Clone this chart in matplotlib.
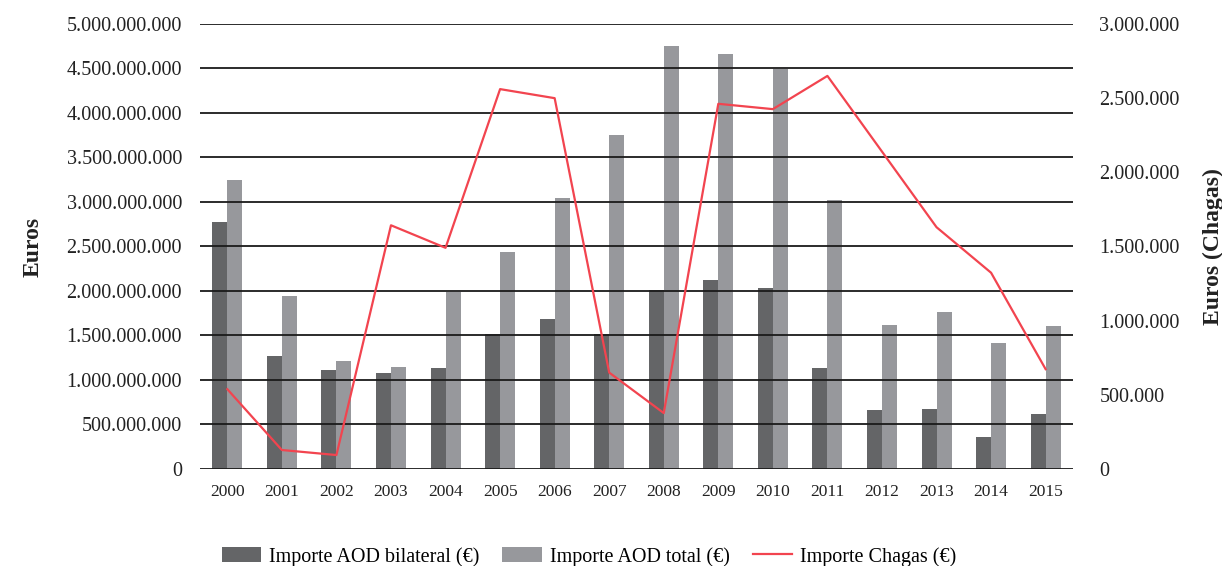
import numpy as np
import matplotlib
matplotlib.use("Agg")
import matplotlib.pyplot as plt
from matplotlib.ticker import FuncFormatter, MultipleLocator

plt.rcParams['font.family'] = ['Liberation Serif', 'DejaVu Serif']

years = [str(y) for y in range(2000, 2016)]

# AOD amounts in euros
aod_bilateral = [2.77e9, 1.27e9, 1.11e9, 1.075e9, 1.13e9, 1.515e9, 1.69e9, 1.515e9,
                 2.01e9, 2.12e9, 2.03e9, 1.13e9, 0.663e9, 0.674e9, 0.36e9, 0.618e9]
aod_total = [3.245e9, 1.94e9, 1.21e9, 1.145e9, 1.985e9, 2.435e9, 3.04e9, 3.75e9,
             4.75e9, 4.665e9, 4.49e9, 3.02e9, 1.615e9, 1.76e9, 1.415e9, 1.605e9]

# Chagas funding in euros (right axis)
chagas = [538e3, 128e3, 94e3, 1.643e6, 1.491e6, 2.561e6, 2.50e6, 650e3,
          377e3, 2.462e6, 2.426e6, 2.65e6, 2.14e6, 1.63e6, 1.323e6, 673e3]

dark = '#646567'
light = '#97989c'
red = '#f2444f'
txt = '#222222'


def dotted_thousands(v, pos):
    return f"{v:,.0f}".replace(',', '.')


fig = plt.figure(figsize=(12.22, 5.66), dpi=100)
ax = fig.add_axes([0.1637, 0.1714, 0.7143, 0.7862])

x = np.arange(len(years))
w = 0.275
b1 = ax.bar(x - w / 2, aod_bilateral, w, color=dark, label='Importe AOD bilateral (€)', zorder=1)
b2 = ax.bar(x + w / 2, aod_total, w, color=light, label='Importe AOD total (€)', zorder=1)

ax.set_xlim(-0.5, len(years) - 0.5)
ax.set_ylim(0, 5e9)
ax.yaxis.set_major_locator(MultipleLocator(5e8))
ax.yaxis.set_major_formatter(FuncFormatter(dotted_thousands))
ax.set_xticks(x)
ax.set_xticklabels(years)
ax.set_axisbelow(False)
ax.grid(axis='y', color='#1a1a1a', lw=1.3)
ax.tick_params(axis='y', length=0, pad=13, labelsize=14.5, labelcolor=txt)
ax.tick_params(axis='x', length=0, pad=11, labelsize=12.5, labelcolor=txt)
for s in ax.spines.values():
    s.set_visible(False)
ax.set_ylabel('Euros', fontsize=17, fontweight='bold', color=txt, va='center')
ax.yaxis.set_label_coords(-0.1907, 0.5)

ax2 = ax.twinx()
ln, = ax2.plot(x, chagas, color=red, lw=1.6, label='Importe Chagas (€)')
ax2.set_ylim(0, 3e6)
ax2.yaxis.set_major_locator(MultipleLocator(5e5))
ax2.yaxis.set_major_formatter(FuncFormatter(dotted_thousands))
ax2.tick_params(axis='y', length=0, pad=19, labelsize=14.5, labelcolor=txt)
for s in ax2.spines.values():
    s.set_visible(False)
ax2.set_ylabel('Euros (Chagas)', fontsize=17, fontweight='bold', color=txt,
               rotation=90, va='center')
ax2.yaxis.set_label_coords(1.161, 0.5)

fig.legend(handles=[b1, b2, ln], loc='lower center', bbox_to_anchor=(0.482, -0.033),
           ncol=3, frameon=False, fontsize=14.5, handlelength=1.95, handleheight=0.75,
           columnspacing=1.15, handletextpad=0.4)

fig.savefig('out.png', dpi=100)
